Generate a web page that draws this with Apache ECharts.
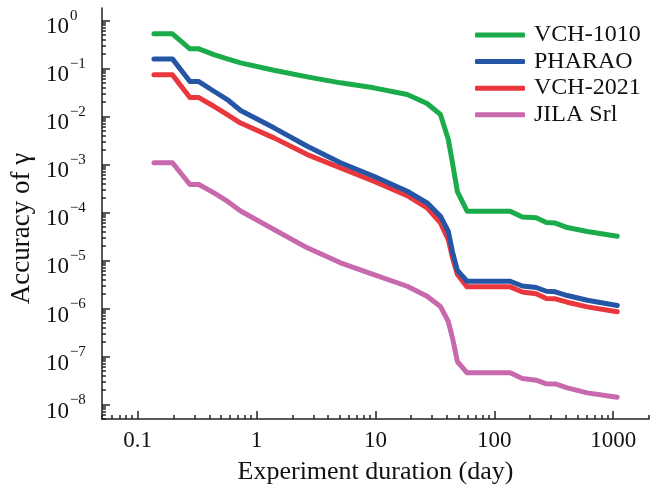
<!DOCTYPE html>
<html>
<head>
<meta charset="utf-8">
<script src="https://cdn.jsdelivr.net/npm/echarts@6/dist/echarts.min.js"></script>
<style>html,body{margin:0;padding:0;background:#fff;}#c{width:658px;height:494px;}</style>
</head>
<body>
<div id="c"></div>
<script>
// ---- data ----
const days = [0.137, 0.196, 0.275, 0.327, 0.438, 0.567, 0.734, 1.40, 2.67, 5.08, 9.68, 18.5, 27.2, 35.2, 41.0, 44.4, 48.9, 59.0, 136, 172, 225, 274, 326, 411, 605, 1081];
const seriesNames = ['VCH-1010', 'PHARAO', 'VCH-2021', 'JILA Srl'];
const vch1010 = [0.521, 0.521, 0.254, 0.254, 0.193, 0.157, 0.130, 0.0910, 0.0663, 0.0498, 0.0392, 0.0284, 0.0185, 0.0109, 0.00329, 0.00109, 0.000272, 1.06e-4, 1.06e-4, 8.0e-5, 7.7e-5, 6.15e-5, 6.0e-5, 4.84e-5, 4.0e-5, 3.19e-5];
const pharao = [0.157, 0.157, 0.0530, 0.0530, 0.0333, 0.0224, 0.0132, 0.00576, 0.00238, 0.00108, 5.66e-4, 2.76e-4, 1.58e-4, 8.32e-5, 4.0e-5, 1.53e-5, 6.16e-6, 3.69e-6, 3.69e-6, 2.93e-6, 2.73e-6, 2.28e-6, 2.22e-6, 1.86e-6, 1.48e-6, 1.15e-6];
const vch2021 = [0.0730, 0.0730, 0.0246, 0.0246, 0.0162, 0.0109, 0.00725, 0.00356, 0.00160, 8.47e-4, 4.45e-4, 2.24e-4, 1.24e-4, 6.06e-5, 2.72e-5, 1.15e-5, 5.08e-6, 2.82e-6, 2.82e-6, 2.20e-6, 2.02e-6, 1.61e-6, 1.59e-6, 1.35e-6, 1.08e-6, 8.51e-7];
const jila = [1.08e-3, 1.08e-3, 3.80e-4, 3.80e-4, 2.55e-4, 1.71e-4, 1.07e-4, 4.40e-5, 1.83e-5, 8.91e-6, 5.08e-6, 2.90e-6, 1.80e-6, 1.10e-6, 5.35e-7, 2.48e-7, 7.87e-8, 4.57e-8, 4.57e-8, 3.48e-8, 3.21e-8, 2.70e-8, 2.68e-8, 2.23e-8, 1.75e-8, 1.42e-8];
const xTickValues = [0.1, 1, 10, 100, 1000];
const xTickLabels = ['0.1', '1', '10', '100', '1000'];
const yTickExponents = [0, -1, -2, -3, -4, -5, -6, -7, -8];
const yTickBase = '10';
const xName = 'Experiment duration (day)';
const yName = 'Accuracy of γ';

// ---- chart ----
const colors = ['#1aab4b', '#2456a5', '#e9373d', '#c868ad'];
const allY = [vch1010, pharao, vch2021, jila];
const X_MIN = 0.05, X_MAX = 2000, Y_MIN = 5e-9, Y_MAX = 1.8;

function minorTicks(lo, hi) {
  const out = [];
  for (let d = Math.floor(Math.log10(lo)) - 1; d <= Math.ceil(Math.log10(hi)); d++) {
    for (let k = 2; k <= 9; k++) {
      const v = k * Math.pow(10, d);
      if (v >= lo * 0.999 && v <= hi * 1.001) out.push(v);
    }
  }
  return out;
}
const yTickValues = yTickExponents.map(e => Math.pow(10, e));
const expText = v => { const e = Math.round(Math.log10(v)); return e < 0 ? '\u2212' + (-e) : String(e); };
const font = 'Liberation Serif';
const axisColor = '#222';

const chart = echarts.init(document.getElementById('c'));
const option = {
  animation: false,
  grid: { left: 101, right: 9, top: 8, bottom: 75 },
  legend: {
    orient: 'vertical', left: 475, top: 23, padding: 0,
    itemWidth: 50, itemHeight: 5, itemGap: 2.6, icon: 'roundRect',
    textStyle: { fontFamily: font, fontSize: 24, color: '#111', lineHeight: 24, padding: [0, 0, 0, 4] },
    data: seriesNames
  },
  xAxis: [{
    type: 'log', min: X_MIN, max: X_MAX, position: 'bottom',
    name: xName, nameLocation: 'middle', nameGap: 40,
    nameTextStyle: { fontFamily: font, fontSize: 26, color: '#111' },
    axisLine: { show: true, lineStyle: { color: axisColor, width: 1.5 } },
    axisTick: { show: true, inside: true, length: 8, customValues: xTickValues, lineStyle: { color: axisColor, width: 1.5 } },
    axisLabel: {
      customValues: xTickValues, margin: 10,
      fontFamily: font, fontSize: 23, color: '#111',
      formatter: v => { let best = 0; xTickValues.forEach((t, i) => { if (Math.abs(Math.log10(t) - Math.log10(v)) < Math.abs(Math.log10(xTickValues[best]) - Math.log10(v))) best = i; }); return xTickLabels[best]; }
    },
    splitLine: { show: false }
  }, {
    type: 'log', min: X_MIN, max: X_MAX, position: 'bottom',
    axisLine: { show: false },
    axisTick: { show: true, inside: true, length: 4, customValues: minorTicks(X_MIN, X_MAX), lineStyle: { color: axisColor, width: 1.5 } },
    axisLabel: { show: false }, splitLine: { show: false }
  }],
  yAxis: [{
    type: 'log', min: Y_MIN, max: Y_MAX, position: 'left',
    name: yName, nameLocation: 'middle', nameGap: 66, nameRotate: 90,
    nameTextStyle: { fontFamily: font, fontSize: 27, color: '#111', padding: [0, 30, 0, 0] },
    axisLine: { show: true, lineStyle: { color: axisColor, width: 1.5 } },
    axisTick: { show: true, inside: true, length: 8, customValues: yTickValues, lineStyle: { color: axisColor, width: 1.5 } },
    axisLabel: {
      customValues: yTickValues, margin: 33, align: 'right',
      verticalAlign: 'top', lineHeight: 14,
      fontFamily: font, fontSize: 23, color: '#111',
      formatter: () => yTickBase
    },
    splitLine: { show: false }
  }, {
    type: 'log', min: Y_MIN, max: Y_MAX, position: 'left',
    axisLine: { show: false },
    axisTick: { show: true, inside: true, length: 4, customValues: minorTicks(Y_MIN, Y_MAX), lineStyle: { color: axisColor, width: 1.5 } },
    axisLabel: {
      customValues: yTickValues, margin: 32, align: 'left',
      verticalAlign: 'bottom', lineHeight: 8,
      fontFamily: font, fontSize: 15, color: '#111',
      formatter: expText
    },
    splitLine: { show: false }
  }],
  series: seriesNames.map((n, i) => ({
    name: n, type: 'line', xAxisIndex: 0, yAxisIndex: 0,
    data: days.map((d, j) => [d, allY[i][j]]),
    symbol: 'none', showSymbol: false, smooth: false,
    itemStyle: { color: colors[i] },
    lineStyle: { color: colors[i], width: 5, cap: 'round', join: 'round' },
    z: 10 - i
  }))
};
chart.setOption(option);
</script>
</body>
</html>
